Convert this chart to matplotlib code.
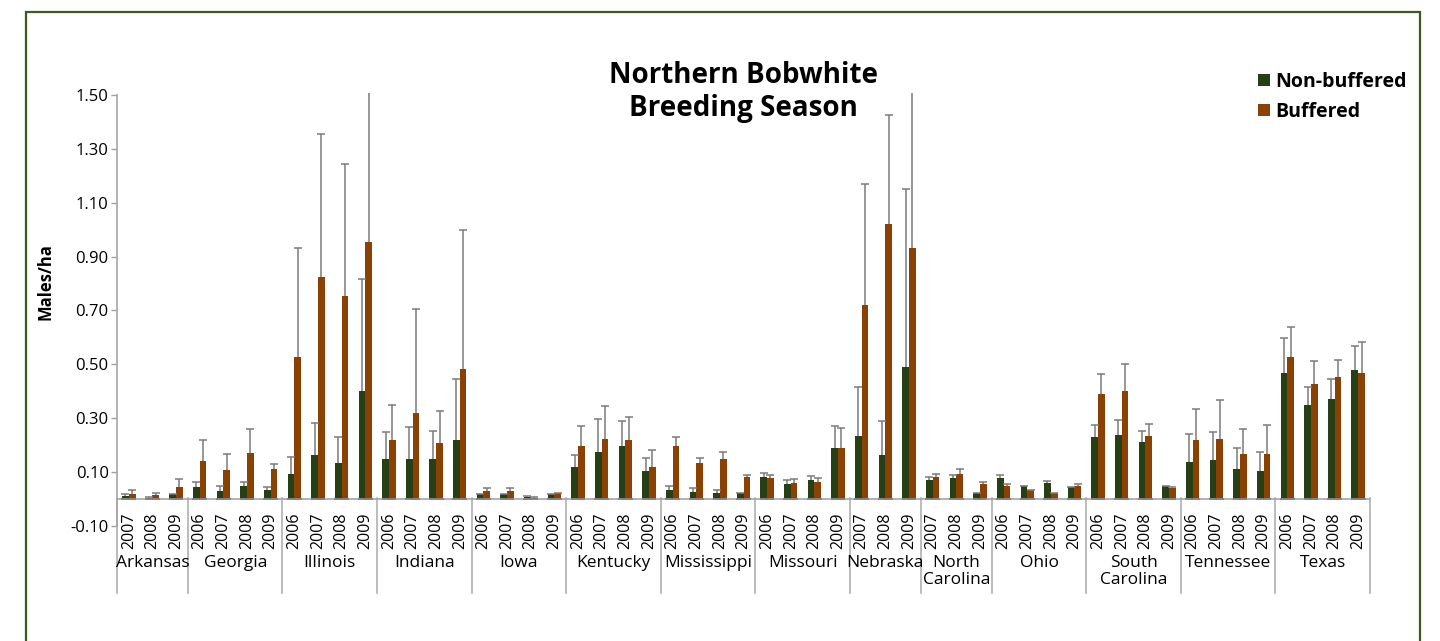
import matplotlib
matplotlib.use('Agg')
import matplotlib.pyplot as plt
import matplotlib.transforms as mtransforms
from matplotlib.patches import Rectangle
import numpy as np

# survey states and the years sampled in each
states = ['Arkansas', 'Georgia', 'Illinois', 'Indiana', 'Iowa', 'Kentucky',
          'Mississippi', 'Missouri', 'Nebraska', 'North\nCarolina', 'Ohio',
          'South\nCarolina', 'Tennessee', 'Texas']
state_years = [
    ['2007', '2008', '2009'],
    ['2006', '2007', '2008', '2009'],
    ['2006', '2007', '2008', '2009'],
    ['2006', '2007', '2008', '2009'],
    ['2006', '2007', '2008', '2009'],
    ['2006', '2007', '2008', '2009'],
    ['2006', '2007', '2008', '2009'],
    ['2006', '2007', '2008', '2009'],
    ['2007', '2008', '2009'],
    ['2007', '2008', '2009'],
    ['2006', '2007', '2008', '2009'],
    ['2006', '2007', '2008', '2009'],
    ['2006', '2007', '2008', '2009'],
    ['2006', '2007', '2008', '2009'],
]

# males/ha, non-buffered fields
nonbuf = [0.012, 0.004, 0.017,
          0.044, 0.028, 0.047, 0.032,
          0.091, 0.162, 0.132, 0.402,
          0.147, 0.147, 0.147, 0.217,
          0.017, 0.017, 0.007, 0.017,
          0.117, 0.173, 0.195, 0.102,
          0.032, 0.025, 0.022, 0.020,
          0.080, 0.054, 0.069, 0.188,
          0.232, 0.162, 0.488,
          0.069, 0.078, 0.021,
          0.077, 0.047, 0.058, 0.042,
          0.228, 0.236, 0.210, 0.046,
          0.136, 0.143, 0.110, 0.102,
          0.469, 0.347, 0.369, 0.480]
nonbuf_se = [0.004, 0.003, 0.002,
             0.019, 0.018, 0.017, 0.010,
             0.066, 0.121, 0.096, 0.413,
             0.102, 0.120, 0.106, 0.227,
             0.001, 0.001, 0.002, 0.001,
             0.047, 0.123, 0.093, 0.051,
             0.017, 0.016, 0.011, 0.001,
             0.016, 0.016, 0.016, 0.082,
             0.183, 0.126, 0.664,
             0.011, 0.011, 0.001,
             0.012, 0.001, 0.009, 0.001,
             0.046, 0.057, 0.043, 0.001,
             0.105, 0.106, 0.080, 0.071,
             0.129, 0.068, 0.075, 0.088]

# males/ha, buffered fields
buf = [0.017, 0.015, 0.043,
       0.140, 0.106, 0.169, 0.110,
       0.525, 0.825, 0.755, 0.955,
       0.217, 0.317, 0.206, 0.484,
       0.030, 0.030, 0.004, 0.020,
       0.195, 0.221, 0.217, 0.117,
       0.195, 0.132, 0.147, 0.081,
       0.077, 0.058, 0.062, 0.188,
       0.720, 1.020, 0.930,
       0.080, 0.091, 0.054,
       0.047, 0.031, 0.020, 0.047,
       0.388, 0.402, 0.232, 0.041,
       0.217, 0.221, 0.165, 0.165,
       0.528, 0.425, 0.454, 0.467]
buf_se = [0.016, 0.008, 0.032,
          0.080, 0.062, 0.089, 0.020,
          0.405, 0.530, 0.487, 0.700,
          0.130, 0.387, 0.121, 0.516,
          0.011, 0.011, 0.001, 0.001,
          0.075, 0.125, 0.087, 0.064,
          0.033, 0.020, 0.026, 0.008,
          0.012, 0.016, 0.016, 0.074,
          0.448, 0.405, 0.650,
          0.013, 0.019, 0.009,
          0.007, 0.002, 0.001, 0.007,
          0.077, 0.098, 0.047, 0.001,
          0.118, 0.147, 0.093, 0.109,
          0.112, 0.086, 0.061, 0.117]

green = '#263f14'
brown = '#8c4104'
W, H = 1440, 641

plt.rcParams['font.family'] = ['Open Sans', 'DejaVu Sans']

fig = plt.figure(figsize=(W / 100, H / 100), dpi=100)
ax = fig.add_axes([117 / W, 1 - 525.7 / H, 1253 / W, 432.8 / H])

# spine setup first: moving a spine resets the tick styling
for s in ['top', 'right']:
    ax.spines[s].set_visible(False)
ax.spines['bottom'].set_position(('data', 0))
ax.spines['left'].set_bounds(-0.1, 1.5)
for s in ['bottom', 'left']:
    ax.spines[s].set_color('#a6a6a6')
    ax.spines[s].set_linewidth(1.2)

years = [y for ys in state_years for y in ys]
x = np.arange(len(years))
w = 0.283

for vals, se, col, off, lab in [(nonbuf, nonbuf_se, green, -w / 2, 'Non-buffered'),
                                 (buf, buf_se, brown, w / 2, 'Buffered')]:
    ax.bar(x + off, vals, width=w, color=col, label=lab, zorder=2)
    eb = ax.errorbar(x + off, vals, yerr=[vals, se], fmt='none', ecolor='#7a7a7a',
                     elinewidth=1.1, capsize=3.2, capthick=1.1, zorder=1)
    for cl in eb[1]:
        cl.set_color('#2b2b2b')
        cl.set_zorder(3)

ax.set_xlim(-0.5, len(years) - 0.5)
ax.set_ylim(-0.1, 1.508)
yt = np.arange(-0.1, 1.51, 0.2)
ax.set_yticks(yt)
ax.set_yticklabels(['%.2f' % v for v in yt], fontsize=12)
ax.set_xticks(x)
ax.set_xticklabels(years, fontsize=11.5)
ax.tick_params(axis='x', length=0, pad=10, labelrotation=90)
ax.tick_params(axis='y', length=4, width=1, color='#a0a0a0', pad=2)

# state group labels and separators under the year labels
trans = mtransforms.blended_transform_factory(ax.transData, fig.transFigure)
edges = np.cumsum([0] + [len(ys) for ys in state_years]) - 0.5
for e in edges:
    ax.plot([e, e], [1 - 497.7 / H, 1 - 593 / H], color='#b0b0b0', lw=1.2,
            transform=trans, clip_on=False)
for i, name in enumerate(states):
    ax.text((edges[i] + edges[i + 1]) / 2, 1 - 555 / H, name, transform=trans,
            ha='center', va='top', fontsize=12.5, linespacing=1.05)

fig.text(46 / W, 1 - 282 / H, 'Males/ha', rotation=90, ha='center', va='center',
         fontsize=12, fontweight='bold')
fig.text(743 / W, 1 - 92 / H, 'Northern Bobwhite\nBreeding Season', ha='center',
         va='center', fontsize=20, fontweight='bold', linespacing=1.22)

leg = ax.legend(loc='upper left', bbox_to_anchor=(1258 / W, 1 - 72 / H),
                bbox_transform=fig.transFigure, frameon=False, borderpad=0,
                borderaxespad=0, handlelength=0.6, handleheight=0.6,
                handletextpad=0.3, labelspacing=0.5, fontsize=14)
for t in leg.get_texts():
    t.set_fontweight('bold')

# outer frame
fig.patches.append(Rectangle((26 / W, -0.05), (1420 - 26) / W, 1.05 - 12 / H,
                             transform=fig.transFigure, fill=False,
                             edgecolor='#3d5a22', linewidth=1.6))

fig.savefig('out.png', dpi=100)
